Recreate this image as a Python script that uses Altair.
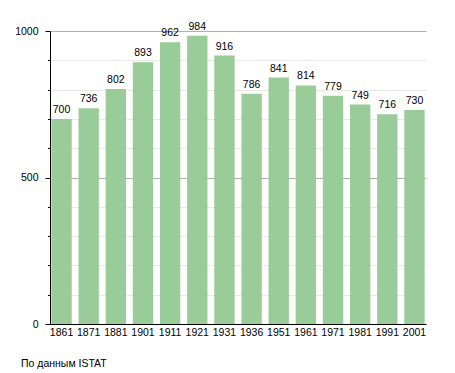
import altair as alt
import pandas as pd

years = ["1861", "1871", "1881", "1901", "1911", "1921", "1931",
         "1936", "1951", "1961", "1971", "1981", "1991", "2001"]
values = [700, 736, 802, 893, 962, 984, 916, 786, 841, 814, 779, 749, 716, 730]
y_ticks = [0, 100, 200, 300, 400, 500, 600, 700, 800, 900, 1000]
caption = "По данным ISTAT"

FONT = "Liberation Sans"

df = pd.DataFrame({"year": years, "value": values})

is_major = "datum.value % 500 === 0"

base = alt.Chart(df).encode(
    x=alt.X("year:N", sort=years, title=None,
            scale=alt.Scale(paddingInner=0.25, paddingOuter=0.05),
            axis=alt.Axis(labelAngle=0, ticks=False, labelPadding=3,
                          domainColor="black", labelColor="black",
                          labelFont=FONT, labelFontSize=10.5)),
    y=alt.Y("value:Q", scale=alt.Scale(domain=[0, 1000], nice=False), title=None,
            axis=alt.Axis(values=y_ticks, grid=True,
                          gridColor={"condition": {"test": is_major, "value": "#b0b0b0"},
                                     "value": "#e8e8e8"},
                          tickSize={"condition": {"test": is_major, "value": 5},
                                    "value": 2.5},
                          labelExpr="datum.value % 500 === 0 ? '' + datum.value : ''",
                          tickColor="black", domainColor="black",
                          labelColor="black", labelFont=FONT,
                          labelFontSize=10.5, labelPadding=7)),
)

bars = base.mark_bar(color="#99cc99")
labels = base.mark_text(baseline="bottom", dy=-4, font=FONT, fontSize=10.5,
                        color="black").encode(text="value:Q")

chart = alt.layer(bars, labels).properties(
    width=376,
    height=293,
    autosize=alt.AutoSizeParams(type="none"),
    padding={"left": 42, "top": 23, "right": 20, "bottom": 45},
    title=alt.TitleParams(caption, orient="bottom", anchor="start", frame="group",
                          dx=-29, offset=21, font=FONT, fontSize=10.5,
                          fontWeight="normal", color="black"),
).configure_view(stroke=None).configure_axis(domainWidth=1)

chart.save("out.html", embed_options={"renderer": "svg", "actions": False})
